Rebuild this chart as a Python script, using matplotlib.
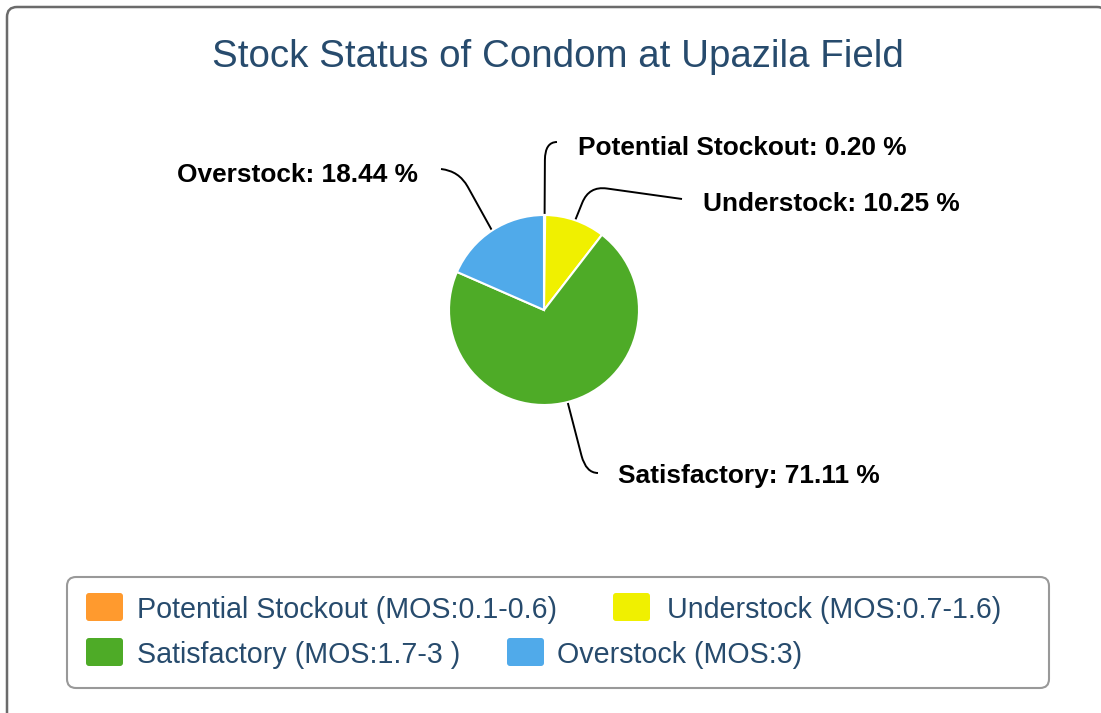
import numpy as np
import matplotlib
matplotlib.use("Agg")
import matplotlib.pyplot as plt
from matplotlib.patches import FancyBboxPatch
from matplotlib.path import Path
from matplotlib.patches import PathPatch

plt.rcParams['font.family'] = ['Liberation Sans', 'DejaVu Sans']

title = "Stock Status of Condom at Upazila Field"
names = ["Potential Stockout", "Understock", "Satisfactory", "Overstock"]
shares = [0.20, 10.25, 71.11, 18.44]
legend_labels = ["Potential Stockout (MOS:0.1-0.6)", "Understock (MOS:0.7-1.6)",
                 "Satisfactory (MOS:1.7-3 )", "Overstock (MOS:3)"]
colors = ["#FF9A2E", "#F0F000", "#4EAB27", "#50AAEA"]

W, H = 1101, 713
fig = plt.figure(figsize=(W / 100, H / 100), dpi=100)

# overlay in pixel coords (y down)
ov = fig.add_axes([0, 0, 1, 1])
ov.set_xlim(0, W)
ov.set_ylim(H, 0)
ov.axis('off')

ov.add_patch(FancyBboxPatch((7, 7), 1100, 730, boxstyle="round,pad=0,rounding_size=10",
                            fc='white', ec='#6b6b6b', lw=1.8, clip_on=False))
ov.text(558, 67, title, fontsize=27.7, color='#274b6d', ha='center', va='baseline')

# pie
cx, cy, R = 544, 310, 95
pax = fig.add_axes([(cx - R) / W, (H - cy - R) / H, 2 * R / W, 2 * R / H])
pax.pie(shares, colors=colors, startangle=90, counterclock=False,
        wedgeprops=dict(edgecolor='white', linewidth=1.5))
pax.set_xlim(-1, 1)
pax.set_ylim(-1, 1)
pax.set_aspect('auto')
pax.axis('off')

# data labels with curved connectors
cum = np.cumsum([0] + shares[:-1])
mids = 90 - 360 * (cum + np.array(shares) / 2) / sum(shares)
# knee, label end, text anchor, ha  (same order as names)
label_layout = [
    ((545, 142), (557, 142), (578, 155), 'left'),
    ((589, 186), (682, 199), (703, 211), 'left'),
    ((586, 473), (598, 473), (618, 483), 'left'),
    ((459, 171), (441, 169), (418, 182), 'right'),
]

def connector(p0, knee, p3, r=18):
    p0, knee, p3 = map(np.array, (p0, knee, p3))
    a = knee + (p0 - knee) / np.linalg.norm(p0 - knee) * min(r, np.linalg.norm(p0 - knee))
    b = knee + (p3 - knee) / np.linalg.norm(p3 - knee) * min(r, np.linalg.norm(p3 - knee))
    verts = [p0, a, knee, b, p3]
    codes = [Path.MOVETO, Path.LINETO, Path.CURVE3, Path.CURVE3, Path.LINETO]
    return PathPatch(Path(verts, codes), fc='none', ec='black', lw=1.4, clip_on=False)

for name, val, ang, (knee, end, tpos, ha) in zip(names, shares, mids, label_layout):
    p0 = (cx + R * np.cos(np.radians(ang)), cy - R * np.sin(np.radians(ang)))
    ov.add_patch(connector(p0, knee, end))
    ov.text(tpos[0], tpos[1], f"{name}: {val:.2f} %", fontsize=18.9, fontweight='bold',
            color='black', ha=ha, va='baseline')

# legend
ov.add_patch(FancyBboxPatch((67, 577), 982, 111, boxstyle="round,pad=0,rounding_size=9",
                            fc='none', ec='#999999', lw=1.5))
leg_pos = [(86, 593, 137, 618), (613, 593, 667, 618), (86, 638, 137, 663), (507, 638, 557, 663)]
for lab, col, (sx, sy, tx, ty) in zip(legend_labels, colors, leg_pos):
    ov.add_patch(FancyBboxPatch((sx, sy), 37, 28, boxstyle="round,pad=0,rounding_size=3",
                                fc=col, ec='none'))
    ov.text(tx, ty, lab, fontsize=20.6, color='#274b6d', ha='left', va='baseline')

fig.savefig("out.png", dpi=100)
